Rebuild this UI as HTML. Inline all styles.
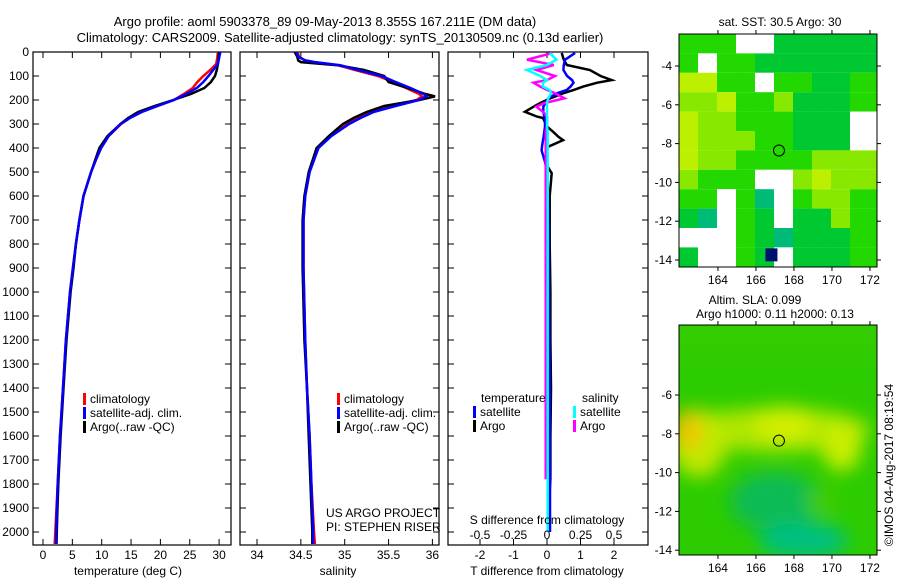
<!DOCTYPE html>
<html><head><meta charset="utf-8">
<style>
html,body{margin:0;padding:0;background:#fff;}
svg{display:block;font-family:"Liberation Sans",sans-serif;}
</style></head>
<body>
<svg id="chart" width="900" height="580" viewBox="0 0 900 580" xmlns="http://www.w3.org/2000/svg">
<defs>
<clipPath id="c1"><rect x="33" y="52" width="198" height="493"/></clipPath>
<clipPath id="c2"><rect x="240" y="52" width="199" height="493"/></clipPath>
<clipPath id="c3"><rect x="448" y="52" width="200" height="493"/></clipPath>
<clipPath id="cm2"><rect x="679" y="325" width="198" height="230"/></clipPath>
<filter id="blur" x="-50%" y="-50%" width="200%" height="200%"><feGaussianBlur stdDeviation="9"/></filter>
</defs>
<text x="325" y="26" font-size="13" text-anchor="middle">Argo profile: aoml 5903378_89 09-May-2013 8.355S 167.211E (DM data)</text>
<text x="340" y="42" font-size="13" text-anchor="middle">Climatology: CARS2009. Satellite-adjusted climatology: synTS_20130509.nc (0.13d earlier)</text>
<g id="g1"></g>
<g id="g2"></g>
<g id="g3"></g>
<g id="m1"></g>
<g id="m2"></g>
<text x="0" y="0" font-size="12" text-anchor="middle" transform="translate(893,465) rotate(-90)">©IMOS 04-Aug-2017 08:19:54</text>
</svg>
<script>
const depthT=[0,25,50,75,100,125,150,175,200,225,250,275,300,350,400,450,500,600,700,800,900,1000,1200,1400,1600,1800,1950,2050];
const climT=[29.8,29.7,29.5,28.5,27.3,26.3,25.5,24.0,22.3,19.5,16.8,14.8,13.3,11.2,9.9,9.0,8.2,6.9,6.2,5.6,5.1,4.6,3.9,3.4,2.9,2.5,2.2,2.0];
const satT=[30.2,30.0,29.8,29.0,28.2,27.3,26.2,24.4,22.3,19.5,16.8,14.8,13.2,11.2,9.9,9.0,8.2,6.9,6.2,5.6,5.1,4.6,3.9,3.4,2.9,2.5,2.3,2.2];
const argoT=[30.0,29.9,29.8,29.6,29.3,28.6,27.5,25.2,22.2,19.0,16.2,14.5,13.2,11.0,9.6,8.9,8.2,6.9,6.2,5.6,5.2,4.7,4.0,3.5,3.0,2.6,2.4,2.3];
const depthS=[0,20,35,42,55,75,100,125,150,175,185,200,225,250,275,300,350,400,500,600,700,900,1200,1400,1600,1800,2000,2050];
const climS=[34.46,34.48,34.55,34.65,34.92,35.12,35.38,35.55,35.7,35.85,35.88,35.82,35.55,35.3,35.15,35.03,34.84,34.7,34.6,34.55,34.53,34.53,34.55,34.57,34.6,34.62,34.65,34.66];
const satS=[34.45,34.47,34.55,34.66,34.95,35.15,35.42,35.58,35.75,35.9,35.93,35.85,35.58,35.33,35.18,35.05,34.85,34.7,34.6,34.55,34.53,34.53,34.55,34.57,34.6,34.62,34.64,34.64];
const argoS=[34.43,34.46,34.47,34.5,34.92,35.22,35.45,35.5,35.72,35.92,36.03,35.85,35.45,35.25,35.1,34.98,34.82,34.68,34.59,34.54,34.52,34.52,34.54,34.57,34.59,34.61,34.63,34.63];
const depthD=[4,32,54,75,100,117,128,144,158,172,193,213,228,249,269,275,311,332,354,367,395,410,462,505,600,800,1000,1200,1400,1600,1780,1900,2000];
const argoTd=[0.44,0.5,0.59,1.28,1.6,1.93,1.5,1.08,0.8,0.48,0.1,-0.21,-0.4,-0.66,-0.3,-0.12,0,0.18,0.35,0.48,0.03,0,-0.05,0.14,0.08,0.08,0.1,0.1,0.12,0.1,0.1,0.05,0.08];
const satTd=[0.84,0.54,0.5,0.49,0.6,0.75,0.79,0.7,0.59,0.3,0.04,-0.05,-0.11,-0.11,-0.08,-0.06,-0.06,-0.08,-0.1,-0.12,-0.15,-0.16,-0.05,0,0.03,0.05,0.06,0.07,0.08,0.08,0.09,0.09,0.09];
const argoSd=[0.04,-0.15,0.05,-0.08,0.06,0.0,-0.1,-0.05,0,0.06,0.13,-0.02,-0.08,-0.03,0,0,0,-0.01,-0.01,-0.01,-0.01,-0.01,-0.01,-0.01,-0.01,-0.01,-0.01,-0.01,-0.01,-0.01,-0.01,null,null];
const satSd=[0.02,0.07,0.0,-0.15,-0.05,0,-0.03,-0.03,0.02,0.03,0.01,0,0,0,0,0,0,0.005,0.005,0.005,0.005,0.005,0.005,0.005,0.005,0.005,0.005,0.005,0.005,0.005,0.005,0.005,0.005];
const depthTicks=[0,100,200,300,400,500,600,700,800,900,1000,1100,1200,1300,1400,1500,1600,1700,1800,1900,2000];
const tempTicks=[0,5,10,15,20,25,30];
const salTicks=[34,34.5,35,35.5,36];
const salTickLabels=["34","34.5","35","35.5","36"];
const tdTicks=[-2,-1,0,1,2];
const sdTicks=[-0.5,-0.25,0,0.25,0.5];
const sdTickLabels=["-0.5","-0.25","0","0.25","0.5"];
const sstLonTicks=[164,166,168,170,172];
const sstLatTicks=[-4,-6,-8,-10,-12,-14];
const slaLatTicks=[-6,-8,-10,-12,-14];
const argoLon=167.211, argoLat=-8.355;
const sstGrid=[
"GGGWWDDDDD",
"GWGGDDDDDD",
"YYGGWGGDDG",
"LLYGGLDDDG",
"YLLGGGDDDW",
"YLLLGGDDDW",
"YLLGGGGLLL",
"LGGGWWLYLL",
"GGWGTWGLLG",
"DTWGDWDDLG",
"WWWGDTDDDG",
"DWWGDWDDDG"];
const sstColors={G:"#22d800",D:"#00c830",L:"#88e800",Y:"#bdf000",T:"#00bb77",W:"#ffffff"};

const NS="http://www.w3.org/2000/svg";
function mk(parent,tag,attrs,text){const e=document.createElementNS(NS,tag);for(const k in attrs)e.setAttribute(k,attrs[k]);if(text!==undefined)e.textContent=text;parent.appendChild(e);return e;}
const yD=d=>52+d*0.24;
const xT=t=>43+t*5.87;
const xS=s=>257+(s-34)*87.7;
const xTd=v=>547+v*33.5;
const xSd=v=>547+v*134;

function frame(g,x0,x1,xt,xfn,depthLabels){
  const r=mk(g,'rect',{x:x0,y:52,width:x1-x0,height:493,fill:'none',stroke:'#000','stroke-width':1.2});
  
  
  depthTicks.forEach(d=>{
    mk(g,'line',{x1:x0,x2:x0+6,y1:yD(d),y2:yD(d),stroke:'#000'});
    mk(g,'line',{x1:x1-6,x2:x1,y1:yD(d),y2:yD(d),stroke:'#000'});
    if(depthLabels){const t=mk(g,'text',{x:29,y:yD(d)+4,'font-size':12,'text-anchor':'end'},String(d));
      
      }
  });
  xt.forEach(v=>{
    mk(g,'line',{x1:xfn(v),x2:xfn(v),y1:52,y2:58,stroke:'#000'});
    mk(g,'line',{x1:xfn(v),x2:xfn(v),y1:539,y2:545,stroke:'#000'});
  });
}
function line(g,clip,depths,vals,xfn,color,name){
  let pts=[];depths.forEach((d,i)=>{if(vals[i]!==null)pts.push(xfn(vals[i]).toFixed(1)+','+yD(d).toFixed(1));});
  const p=mk(g,'polyline',{points:pts.join(' '),fill:'none',stroke:color,'stroke-width':2.5,'clip-path':'url(#'+clip+')'});
  
  
}
function legendEntry(g,x,y,color,label){
  mk(g,'rect',{x:x,y:y-10,width:3,height:12,fill:color});
  const t=mk(g,'text',{x:x+7,y:y,'font-size':12},label);
  
  
}
// Panel 1
const g1=document.getElementById('g1');
frame(g1,33,231,tempTicks,xT,true);
line(g1,'c1',depthT,climT,xT,'#ff0000','climatology-temperature-line');
line(g1,'c1',depthT,argoT,xT,'#000000','argo-temperature-line');
line(g1,'c1',depthT,satT,xT,'#0000ff','satellite-temperature-line');
tempTicks.forEach(v=>{const t=mk(g1,'text',{x:xT(v),y:559,'font-size':12,'text-anchor':'middle'},String(v));
  
  });
mk(g1,'text',{x:128,y:575,'font-size':12,'text-anchor':'middle',},'temperature (deg C)');
legendEntry(g1,83,403,'#ff0000','climatology');
legendEntry(g1,83,417,'#0000ff','satellite-adj. clim.');
legendEntry(g1,83,431,'#000000','Argo(..raw -QC)');
// Panel 2
const g2=document.getElementById('g2');
frame(g2,240,439,salTicks,xS,false);
line(g2,'c2',depthS,climS,xS,'#ff0000','climatology-salinity-line');
line(g2,'c2',depthS,argoS,xS,'#000000','argo-salinity-line');
line(g2,'c2',depthS,satS,xS,'#0000ff','satellite-salinity-line');
salTicks.forEach((v,i)=>{const t=mk(g2,'text',{x:xS(v),y:559,'font-size':12,'text-anchor':'middle'},salTickLabels[i]);
  
  });
mk(g2,'text',{x:338,y:575,'font-size':12,'text-anchor':'middle',},'salinity');
legendEntry(g2,337,403,'#ff0000','climatology');
legendEntry(g2,337,417,'#0000ff','satellite-adj. clim.');
legendEntry(g2,337,431,'#000000','Argo(..raw -QC)');
mk(g2,'text',{x:326,y:517,'font-size':12,},'US ARGO PROJECT');
mk(g2,'text',{x:326,y:531,'font-size':12,},'PI: STEPHEN RISER');
// Panel 3
const g3=document.getElementById('g3');
frame(g3,448,648,tdTicks,xTd,false);
line(g3,'c3',depthD,argoTd,xTd,'#000000','argo-temperature-diff-line');
line(g3,'c3',depthD,satTd,xTd,'#0000ff','satellite-temperature-diff-line');
line(g3,'c3',depthD,argoSd,xSd,'#ff00ff','argo-salinity-diff-line');
line(g3,'c3',depthD,satSd,xSd,'#00ffff','satellite-salinity-diff-line');
mk(g3,'text',{x:481,y:402,'font-size':12,},'temperature');
mk(g3,'text',{x:582,y:402,'font-size':12,},'salinity');
legendEntry(g3,473,416,'#0000ff','satellite');
legendEntry(g3,473,430,'#000000','Argo');
legendEntry(g3,573,416,'#00ffff','satellite');
legendEntry(g3,573,430,'#ff00ff','Argo');
mk(g3,'text',{x:547,y:524,'font-size':12,'text-anchor':'middle',},'S difference from climatology');
sdTicks.forEach((v,i)=>{const t=mk(g3,'text',{x:xSd(v),y:539,'font-size':12,'text-anchor':'middle'},sdTickLabels[i]);
  
  });
tdTicks.forEach(v=>{const t=mk(g3,'text',{x:xTd(v),y:559,'font-size':12,'text-anchor':'middle'},String(v));
  
  });
mk(g3,'text',{x:547,y:575,'font-size':12,'text-anchor':'middle',},'T difference from climatology');
// Maps
const lonX=l=>679+(l-161.95)*19;
const latY1=a=>66+(-4-a)*19.4;
const latY2=a=>395+(-6-a)*19.4;
const m1=document.getElementById('m1');
mk(m1,'text',{x:780,y:26,'font-size':12,'text-anchor':'middle',},'sat. SST: 30.5 Argo: 30');
sstGrid.forEach((row,r)=>{
  for(let c=0;c<row.length;c++){
    const x0=lonX(162+c), lat0=-2.35-r;
    const w=(c===row.length-1)?877-x0:19;
    const cell=mk(m1,'rect',{x:Math.max(679,x0-1).toFixed(1),y:latY1(lat0).toFixed(1),width:(w+1).toFixed(1),height:(r===11?267-latY1(lat0):19.4).toFixed(1),fill:sstColors[row[c]]});
    
    
  }
});
mk(m1,'rect',{x:lonX(166.5),y:latY1(-13.4),width:12,height:13,fill:'#001070',});
function mapFrame(g,top,bottom,latTicks,latY){
  mk(g,'rect',{x:679,y:top,width:198,height:bottom-top,fill:'none',stroke:'#000','stroke-width':1});
  sstLonTicks.forEach(l=>{
    mk(g,'line',{x1:lonX(l),x2:lonX(l),y1:top,y2:top-4,stroke:'#000'});
    mk(g,'line',{x1:lonX(l),x2:lonX(l),y1:bottom,y2:bottom+4,stroke:'#000'});
    const t=mk(g,'text',{x:lonX(l),y:bottom+17,'font-size':12,'text-anchor':'middle'},String(l));
    
    
  });
  latTicks.forEach(a=>{
    mk(g,'line',{x1:679,x2:675,y1:latY(a),y2:latY(a),stroke:'#000'});
    mk(g,'line',{x1:877,x2:881,y1:latY(a),y2:latY(a),stroke:'#000'});
    const t=mk(g,'text',{x:672,y:latY(a)+4,'font-size':12,'text-anchor':'end'},String(a));
    
    
  });
  mk(g,'circle',{cx:lonX(argoLon),cy:latY(argoLat),r:5.5,fill:'none',stroke:'#000','stroke-width':1,});
}
mapFrame(m1,34,267,sstLatTicks,latY1);
const m2=document.getElementById('m2');
mk(m2,'text',{x:755,y:304,'font-size':12,'text-anchor':'middle',},'Altim. SLA: 0.099');
mk(m2,'text',{x:775,y:318,'font-size':12,'text-anchor':'middle',},'Argo h1000: 0.11 h2000: 0.13');
const sg=mk(m2,'g',{'clip-path':'url(#cm2)',});
mk(sg,'rect',{x:679,y:325,width:198,height:230,fill:'#2ccc00'});
const bl=mk(sg,'g',{filter:'url(#blur)'});
mk(bl,'rect',{x:650,y:300,width:260,height:60,fill:'#33cc00'});
mk(bl,'ellipse',{cx:lonX(167),cy:latY2(-7.8),rx:95,ry:22,fill:'#aee600'});
mk(bl,'ellipse',{cx:lonX(167.5),cy:latY2(-7.5),rx:30,ry:18,fill:'#d2ee00'});
mk(bl,'ellipse',{cx:lonX(170.5),cy:latY2(-8.6),rx:20,ry:26,fill:'#c8ee00'});
mk(bl,'ellipse',{cx:lonX(163),cy:latY2(-8.5),rx:28,ry:34,fill:'#bfe800'});
mk(bl,'ellipse',{cx:lonX(162.4),cy:latY2(-7.8),rx:14,ry:20,fill:'#f2c400'});
mk(bl,'ellipse',{cx:lonX(167),cy:latY2(-11.5),rx:45,ry:30,fill:'#10bb55'});
mk(bl,'ellipse',{cx:lonX(168.5),cy:latY2(-13.5),rx:45,ry:18,fill:'#00c080'});
mk(bl,'ellipse',{cx:lonX(169.5),cy:latY2(-11.5),rx:16,ry:12,fill:'#44cc00'});
mapFrame(m2,325,555,slaLatTicks,latY2);
</script>
</body></html>
